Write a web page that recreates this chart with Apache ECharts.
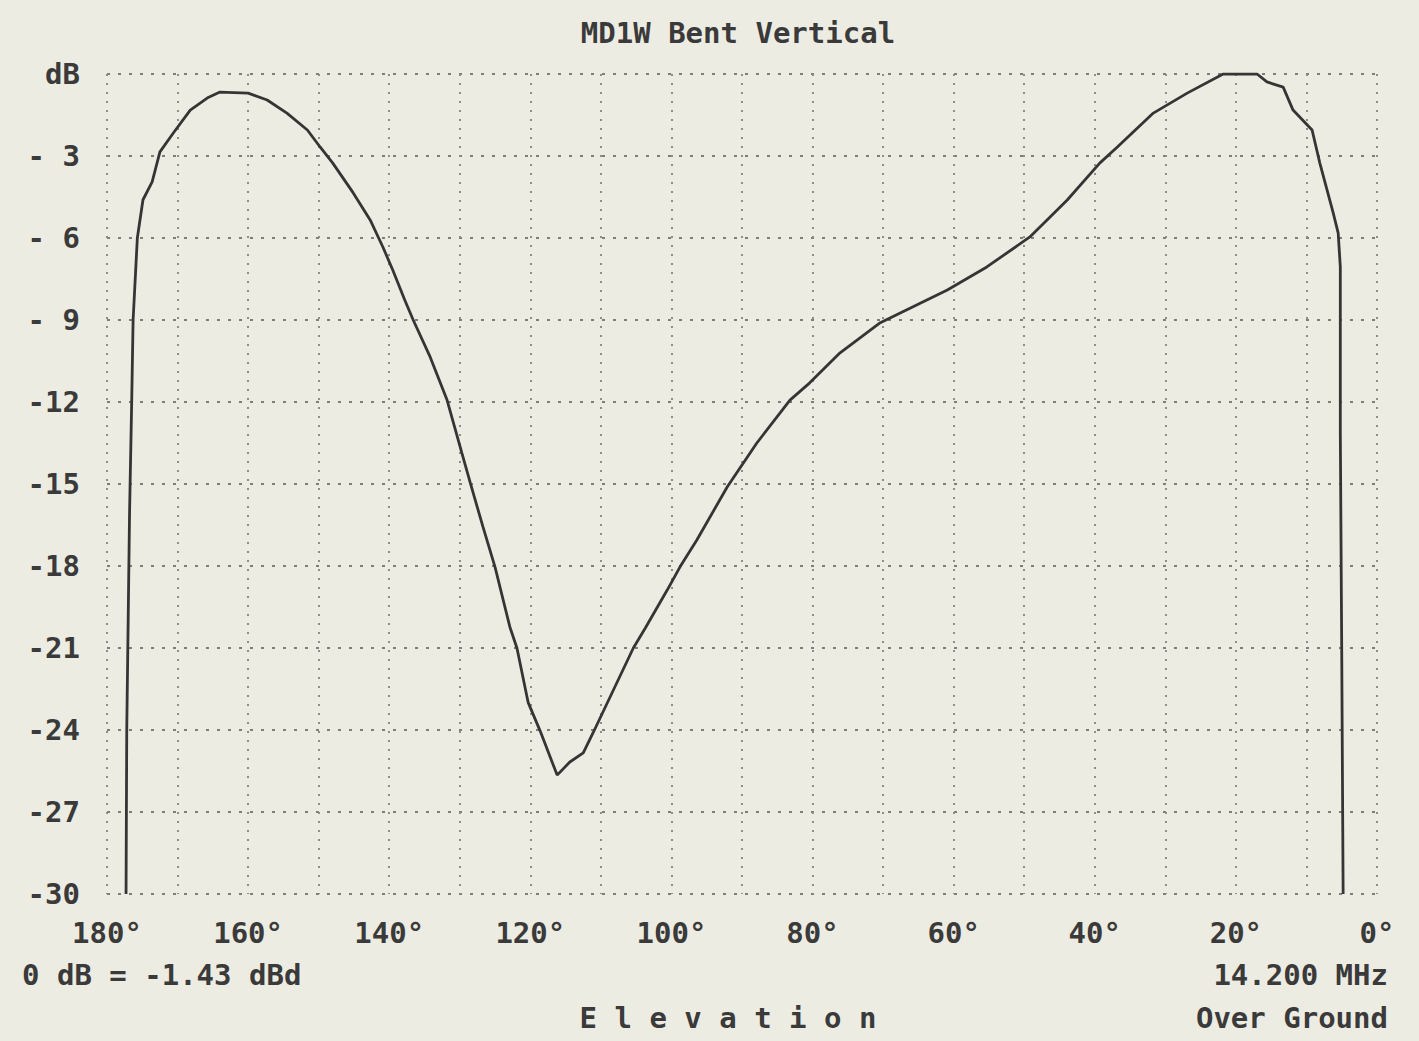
<!DOCTYPE html>
<html>
<head>
<meta charset="utf-8">
<title>MD1W Bent Vertical</title>
<script src="https://cdn.jsdelivr.net/npm/echarts@6/dist/echarts.min.js"></script>
<style>
    html, body { margin: 0; padding: 0; background: #edece2; }
    #patternChart { width: 1419px; height: 1041px; }
</style>
</head>
<body>
<div id="patternChart"></div>
<script>
// elevation angle (deg) and relative gain (dB) left to right
var elevation = [177.3, 177.2, 177.0, 176.8, 176.5, 176.3, 175.7, 174.9,
    173.6, 172.5, 170.6, 168.2, 165.8, 164.0, 160.0, 157.3, 154.5, 151.6,
    149.8, 148.0, 145.1, 142.7, 140.9, 139.5, 137.8, 136.6, 134.2, 131.8,
    129.7, 128.5, 126.7, 125.0, 122.9, 121.9, 120.3, 118.6, 116.2, 114.4,
    112.5, 111.1, 105.4, 103.7, 100.6, 98.8, 96.4, 92.1, 87.9, 83.2,
    80.4, 76.1, 70.4, 60.9, 55.3, 49.2, 43.9, 39.3, 36.8, 31.7,
    26.9, 21.8, 17.0, 15.6, 13.3, 11.9, 9.2, 8.1, 6.2, 5.5,
    5.2, 5.2, 5.0, 4.8];
var gain = [-30.0, -24.0, -20.0, -16.0, -12.0, -9.0, -6.0, -4.6,
    -3.95, -2.85, -2.16, -1.32, -0.88, -0.66, -0.70, -0.95, -1.43, -2.05,
    -2.67, -3.26, -4.35, -5.34, -6.33, -7.17, -8.27, -9.0, -10.35, -11.93,
    -13.87, -14.97, -16.58, -18.04, -20.23, -21.0, -23.0, -24.04, -25.65, -25.17,
    -24.84, -24.1, -21.0, -20.27, -18.88, -18.04, -17.05, -15.11, -13.5, -11.93,
    -11.3, -10.2, -9.1, -7.9, -7.06, -5.96, -4.61, -3.26, -2.67, -1.43,
    -0.7, 0, 0, -0.29, -0.48, -1.32, -2.05, -3.26, -5.09, -5.82,
    -7.06, -13.1, -21.1, -30.0];
var xTicks = [180, 160, 140, 120, 100, 80, 60, 40, 20, 0];

var textFont = '"DejaVu Sans Mono", "Liberation Mono", monospace';
var textColor = '#3a3a3a';

function makeText(str, x, y, align) {
    return {
        type: 'text',
        x: x,
        y: y,
        style: {
            text: str,
            fill: textColor,
            fontFamily: textFont,
            fontWeight: 'bold',
            fontSize: 29,
            align: align,
            textAlign: align,
            verticalAlign: 'middle',
            textVerticalAlign: 'middle'
        }
    };
}

var points = [];
for (var i = 0; i < elevation.length; i++) {
    points.push([elevation[i], gain[i]]);
}

var chart = echarts.init(document.getElementById('patternChart'), null, { renderer: 'svg' });

var option = {
    backgroundColor: '#edece2',
    animation: false,
    grid: {
        left: 107,
        right: 42,
        top: 74,
        bottom: 147
    },
    xAxis: {
        type: 'value',
        inverse: true,
        min: 0,
        max: 180,
        interval: 10,
        axisLine: { show: false },
        axisTick: { show: false },
        axisLabel: {
            margin: 24,
            color: textColor,
            fontFamily: textFont,
            fontWeight: 'bold',
            fontSize: 29,
            formatter: function (v) {
                return xTicks.indexOf(v) >= 0 ? v + '°' : '';
            }
        },
        splitLine: {
            show: true,
            lineStyle: { color: '#8e8e88', width: 2, type: [2, 7] }
        }
    },
    yAxis: {
        type: 'value',
        min: -30,
        max: 0,
        interval: 3,
        axisLine: { show: false },
        axisTick: { show: false },
        axisLabel: {
            margin: 27,
            color: textColor,
            fontFamily: textFont,
            fontWeight: 'bold',
            fontSize: 29,
            formatter: function (v) {
                if (v === 0) {
                    return 'dB';
                }
                var a = Math.abs(v);
                return a < 10 ? '- ' + a : '-' + a;
            }
        },
        splitLine: {
            show: true,
            lineStyle: { color: '#7e7e78', width: 2, type: [3, 8] }
        }
    },
    graphic: [
        makeText('MD1W Bent Vertical', 738, 33, 'center'),
        makeText('0 dB = -1.43 dBd', 22, 975, 'left'),
        makeText('14.200 MHz', 1388, 975, 'right'),
        makeText('E l e v a t i o n', 728, 1018, 'center'),
        makeText('Over Ground', 1388, 1018, 'right')
    ],
    series: [
        {
            name: 'MD1W Bent Vertical',
            type: 'line',
            data: points,
            showSymbol: false,
            smooth: false,
            lineStyle: { color: '#353535', width: 2.8 }
        }
    ]
};

chart.setOption(option);
</script>
</body>
</html>
